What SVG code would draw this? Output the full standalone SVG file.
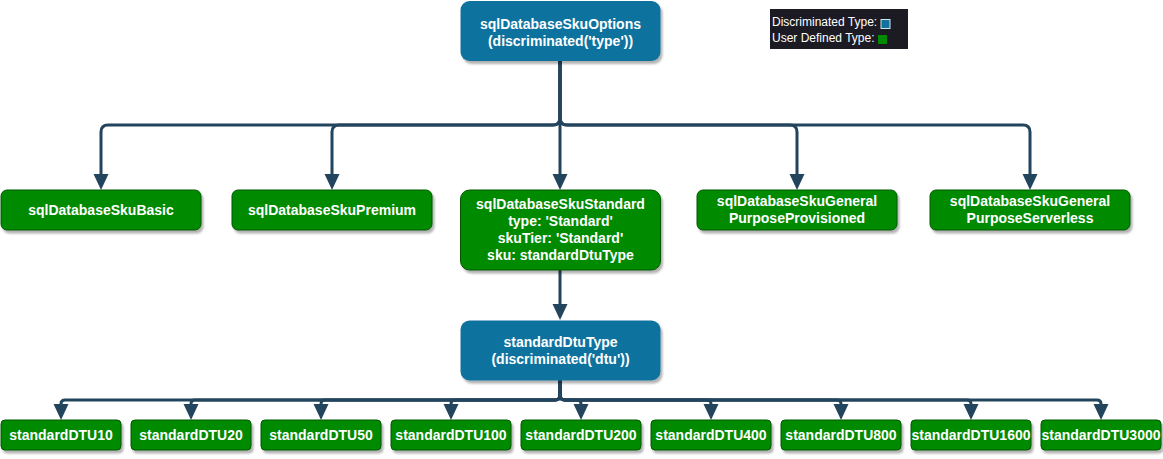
<svg xmlns="http://www.w3.org/2000/svg" width="1163" height="459" viewBox="0 0 1163 459">
<defs>
<filter id="sh" x="-10%" y="-10%" width="130%" height="140%">
<feDropShadow dx="2" dy="3" stdDeviation="1" flood-color="#000" flood-opacity="0.3"/>
</filter>
<marker id="arr" markerUnits="userSpaceOnUse" viewBox="0 0 16 16" markerWidth="16" markerHeight="16" refX="0" refY="8" orient="auto">
<path d="M0,0.5 L16,8 L0,15.5 z" fill="#23445d"/>
</marker>
<style>
.blue{fill:#10739e;filter:url(#sh)}
.green{fill:#008a00;stroke:#005700;stroke-width:1;filter:url(#sh)}
.t{font-family:"Liberation Sans",Arial,sans-serif;font-weight:bold;font-size:14px;fill:#fff;text-anchor:middle}
.lg{font-family:"Liberation Sans",Arial,sans-serif;font-size:12px;fill:#fff}
.e{fill:none;stroke:#23445d;stroke-width:3;marker-end:url(#arr)}
</style>
</defs>
<rect width="1163" height="459" fill="#fff"/>

<g id="legend">
<rect x="770" y="9" width="138" height="40" fill="#1c1b24"/>
<text class="lg" x="772" y="26">Discriminated Type:</text>
<rect x="881" y="19.5" width="9" height="9" fill="#10739e" stroke="#cfe3ee" stroke-width="1"/>
<text class="lg" x="772" y="42">User Defined Type:</text>
<rect x="878" y="35" width="9" height="9" fill="#008a00"/>
</g>

<g id="connectors">
<path class="e" d="M560,61 V118 Q560,125 553,125 H108 Q101,125 101,132 V174"/>
<path class="e" d="M560,61 V118 Q560,125 553,125 H339 Q332,125 332,132 V174"/>
<path class="e" d="M560,61 V174"/>
<path class="e" d="M560,61 V118 Q560,125 567,125 H790 Q797,125 797,132 V174"/>
<path class="e" d="M560,61 V118 Q560,125 567,125 H1023 Q1030,125 1030,132 V174"/>
<path class="e" d="M560,270 V304"/>
<path class="e" d="M560,380 V395 Q560,400 555,400 H65 Q61,400 61,404"/>
<path class="e" d="M560,380 V395 Q560,400 555,400 H195 Q191,400 191,404"/>
<path class="e" d="M560,380 V395 Q560,400 555,400 H325 Q321,400 321,404"/>
<path class="e" d="M560,380 V395 Q560,400 555,400 H455 Q451,400 451,404"/>
<path class="e" d="M560,380 V395 Q560,400 565,400 H577 Q581,400 581,404"/>
<path class="e" d="M560,380 V395 Q560,400 565,400 H707 Q711,400 711,404"/>
<path class="e" d="M560,380 V395 Q560,400 565,400 H837 Q841,400 841,404"/>
<path class="e" d="M560,380 V395 Q560,400 565,400 H967 Q971,400 971,404"/>
<path class="e" d="M560,380 V395 Q560,400 565,400 H1097 Q1101,400 1101,404"/>
</g>

<g id="sqlDatabaseSkuOptions">
<rect class="blue" x="460.5" y="1" width="200" height="60" rx="9"/>
<text class="t" x="560.5" y="29">sqlDatabaseSkuOptions</text>
<text class="t" x="560.5" y="46">(discriminated('type'))</text>
</g>

<g id="sqlDatabaseSkuBasic">
<rect class="green" x="1" y="190" width="200" height="40" rx="6"/>
<text class="t" x="101" y="215">sqlDatabaseSkuBasic</text>
</g>
<g id="sqlDatabaseSkuPremium">
<rect class="green" x="232" y="190" width="200" height="40" rx="6"/>
<text class="t" x="332" y="215">sqlDatabaseSkuPremium</text>
</g>
<g id="sqlDatabaseSkuStandard">
<rect class="green" x="460.5" y="190" width="200" height="80" rx="9"/>
<text class="t" x="560.5" y="209">sqlDatabaseSkuStandard</text>
<text class="t" x="560.5" y="226">type: 'Standard'</text>
<text class="t" x="560.5" y="243">skuTier: 'Standard'</text>
<text class="t" x="560.5" y="260">sku: standardDtuType</text>
</g>
<g id="sqlDatabaseSkuGeneralPurposeProvisioned">
<rect class="green" x="697" y="190" width="200" height="40" rx="6"/>
<text class="t" x="797" y="206">sqlDatabaseSkuGeneral</text>
<text class="t" x="797" y="223">PurposeProvisioned</text>
</g>
<g id="sqlDatabaseSkuGeneralPurposeServerless">
<rect class="green" x="930" y="190" width="200" height="40" rx="6"/>
<text class="t" x="1030" y="206">sqlDatabaseSkuGeneral</text>
<text class="t" x="1030" y="223">PurposeServerless</text>
</g>

<g id="standardDtuType">
<rect class="blue" x="460.5" y="320.5" width="200" height="60" rx="9"/>
<text class="t" x="560.5" y="347">standardDtuType</text>
<text class="t" x="560.5" y="364">(discriminated('dtu'))</text>
</g>

<g id="standardDTU10"><rect class="green" x="1" y="420" width="120" height="30" rx="4"/><text class="t" x="61" y="440">standardDTU10</text></g>
<g id="standardDTU20"><rect class="green" x="131" y="420" width="120" height="30" rx="4"/><text class="t" x="191" y="440">standardDTU20</text></g>
<g id="standardDTU50"><rect class="green" x="261" y="420" width="120" height="30" rx="4"/><text class="t" x="321" y="440">standardDTU50</text></g>
<g id="standardDTU100"><rect class="green" x="391" y="420" width="120" height="30" rx="4"/><text class="t" x="451" y="440">standardDTU100</text></g>
<g id="standardDTU200"><rect class="green" x="521" y="420" width="120" height="30" rx="4"/><text class="t" x="581" y="440">standardDTU200</text></g>
<g id="standardDTU400"><rect class="green" x="651" y="420" width="120" height="30" rx="4"/><text class="t" x="711" y="440">standardDTU400</text></g>
<g id="standardDTU800"><rect class="green" x="781" y="420" width="120" height="30" rx="4"/><text class="t" x="841" y="440">standardDTU800</text></g>
<g id="standardDTU1600"><rect class="green" x="911" y="420" width="120" height="30" rx="4"/><text class="t" x="971" y="440">standardDTU1600</text></g>
<g id="standardDTU3000"><rect class="green" x="1041" y="420" width="120" height="30" rx="4"/><text class="t" x="1101" y="440">standardDTU3000</text></g>
</svg>
